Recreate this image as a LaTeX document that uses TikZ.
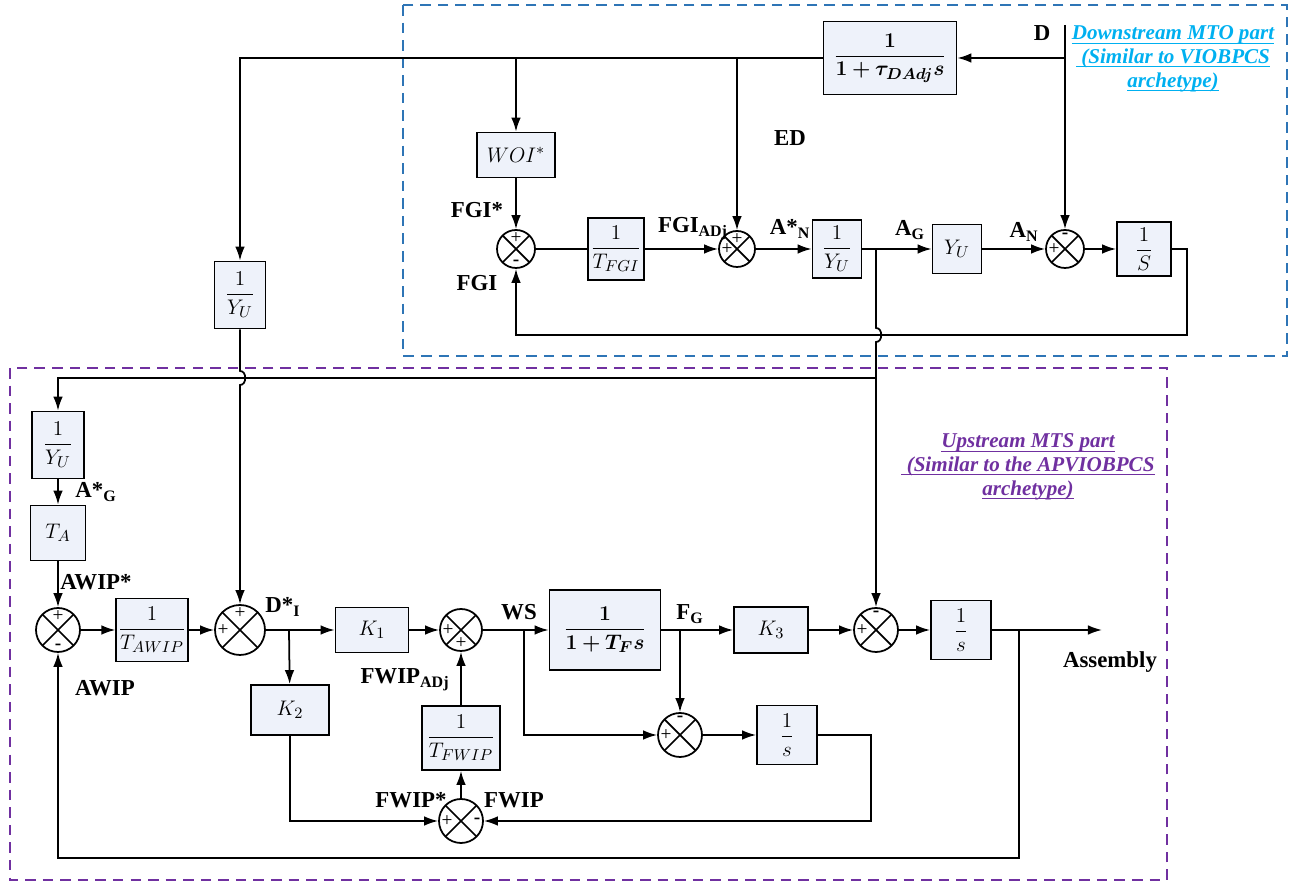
\documentclass[tikz,border=0pt]{standalone}
\usepackage{amsmath,bm}
\usepackage{fontspec}
\setmainfont{Liberation Serif}
\usetikzlibrary{arrows.meta,calc}
\definecolor{boxfill}{RGB}{238,242,250}
\definecolor{mtoframe}{RGB}{46,117,182}
\definecolor{mtotext}{RGB}{0,176,240}
\definecolor{mtscol}{RGB}{112,48,160}
\newcommand{\ulin}[1]{\underline{\smash{#1}}}

\begin{document}
\begin{tikzpicture}[x=0.02cm,y=-0.02cm,line width=1pt,>={Latex[length=8pt,width=5.5pt]},
    font=\fontsize{13}{15}\selectfont,
    blk/.style 2 args={draw,fill=boxfill,inner sep=1pt,minimum width=#1,minimum height=#2},
    sum/.style={draw,circle,minimum size=#1,inner sep=0pt,
      path picture={\draw (path picture bounding box.south west) -- (path picture bounding box.north east)
        (path picture bounding box.north west) -- (path picture bounding box.south east);}},
    sgn/.style={inner sep=1.5pt,font=\fontsize{11}{11}\selectfont},
    lbl/.style={font=\fontsize{13}{15}\selectfont\bfseries},
    note/.style={align=center,font=\fontsize{12}{13.6}\selectfont\bfseries\itshape}]
  \useasboundingbox (0,0) rectangle (1289,884);
  \draw [mtoframe,line width=0.8pt,dash pattern=on 6pt off 4pt] (403,5) rectangle (1287,356);
  \draw [mtscol,line width=0.8pt,dash pattern=on 6pt off 4pt] (10,368) rectangle (1167,880);

  \node [blk={2.66cm}{1.46cm}] (dly) at (890,58) {$\dfrac{\bm{1}}{\bm{1+\tau_{DAdj}s}}$};
  \node [blk={1.56cm}{0.9cm}] (woi) at (516,155) {$WOI^*$};
  \node [sum=0.76cm,label={[sgn,anchor=north]90:+},label={[sgn,anchor=south]-90:\textbf{-}}] (sfgi) at (516,249) {};
  \node [blk={1.12cm}{1.24cm}] (tfgi) at (616,249) {$\dfrac{1}{T_{FGI}}$};
  \node [sum=0.72cm,label={[sgn,anchor=north]90:+},label={[sgn,anchor=west]180:+}] (sadj) at (737,249) {};
  \node [blk={0.98cm}{1.16cm}] (yu1) at (837,249) {$\dfrac{1}{Y_U}$};
  \node [blk={0.98cm}{0.98cm}] (yu2) at (957,249) {$Y_U$};
  \node [sum=0.76cm,label={[sgn,anchor=north]90:\textbf{-}},label={[sgn,anchor=west]180:+}] (san) at (1065,249) {};
  \node [blk={1.08cm}{1.08cm}] (ints) at (1144,249) {$\dfrac{1}{S}$};

  \node [blk={1.02cm}{1.34cm}] (yu3) at (240,295) {$\dfrac{1}{Y_U}$};
  \node [blk={1.04cm}{1.34cm}] (yu4) at (58,445) {$\dfrac{1}{Y_U}$};
  \node [blk={1.1cm}{1.1cm}] (ta) at (58,533) {$T_A$};
  \node [sum=0.88cm,label={[sgn,anchor=north]90:+},label={[sgn,anchor=south]-90:\textbf{-}}] (sawip) at (58,630) {};
  \node [blk={1.22cm}{1.26cm}] (tawip) at (152,630) {$\dfrac{1}{T_{AWIP}}$};
  \node [sum=1cm,label={[sgn,anchor=north]90:+},label={[sgn,anchor=west]180:+}] (sdi) at (240,630) {};
  \node [blk={1.46cm}{0.9cm}] (k1) at (372,630) {$K_1$};
  \node [sum=0.84cm,label={[sgn,anchor=west]180:+},label={[sgn,anchor=south]-90:+}] (sws) at (461,630) {};
  \node [blk={2.22cm}{1.6cm}] (tf) at (605,630) {$\dfrac{\bm{1}}{\bm{1+T_F s}}$};
  \node [blk={1.48cm}{0.92cm}] (k3) at (771,630) {$K_3$};
  \node [sum=0.88cm,label={[sgn,anchor=north]90:\textbf{-}},label={[sgn,anchor=west]180:+}] (sk3) at (876,630) {};
  \node [blk={1.2cm}{1.18cm}] (int1) at (961,630) {$\dfrac{1}{s}$};
  \node [blk={1.56cm}{1.0cm}] (k2) at (290,710) {$K_2$};
  \node [blk={1.56cm}{1.28cm}] (tfwip) at (461,738) {$\dfrac{1}{T_{FWIP}}$};
  \node [sum=0.88cm,label={[sgn,anchor=west]180:+},label={[sgn,anchor=east]0:\textbf{-}}] (sfwip) at (461,821) {};
  \node [sum=0.88cm,label={[sgn,anchor=north]90:\textbf{-}},label={[sgn,anchor=west]180:+}] (slow) at (680,735) {};
  \node [blk={1.2cm}{1.18cm}] (int2) at (787,735) {$\dfrac{1}{s}$};

  \coordinate (din) at (1065,25);
  \coordinate (anj) at (876,249);
  \coordinate (hopa) at (876,335);
  \coordinate (upj) at (876,378);
  \coordinate (fgir) at (1187,335);
  \coordinate (hopb) at (240,378);
  \coordinate (dij) at (289,630);
  \coordinate (wsj) at (524,630);
  \coordinate (fgj) at (680,630);
  \coordinate (outj) at (1019,630);
  \coordinate (asm) at (1102,630);
  \coordinate (outb) at (1019,858);
  \coordinate (fwr) at (871,821);

  \draw [->] (din) -- (san);
  \draw [->] (din |- dly) -- (dly);
  \draw [->] (dly) -| (yu3);
  \draw [->] (woi |- dly) -- (woi);
  \draw [->] (sadj |- dly) -- (sadj);
  \draw [->] (woi) -- (sfgi);
  \draw (sfgi) -- (tfgi);
  \draw [->] (tfgi) -- (sadj);
  \draw [->] (sadj) -- (yu1);
  \draw [->] (yu1) -- (yu2);
  \draw [->] (yu2) -- (san);
  \draw [->] (san) -- (ints);
  \draw [->] (ints) -| (fgir) -| (sfgi);
  \draw [->] (anj) -- ([yshift=4pt]hopa) .. controls ([xshift=4pt,yshift=4pt]hopa) and ([xshift=4pt,yshift=-4pt]hopa) .. ([yshift=-4pt]hopa) -- (sk3);
  \draw [->] (upj) -| (yu4);
  \draw [->] (yu3) -- ([yshift=4pt]hopb) .. controls ([xshift=4pt,yshift=4pt]hopb) and ([xshift=4pt,yshift=-4pt]hopb) .. ([yshift=-4pt]hopb) -- (sdi);
  \draw [->] (yu4) -- (ta);
  \draw [->] (ta) -- (sawip);
  \draw [->] (sawip) -- (tawip);
  \draw [->] (tawip) -- (sdi);
  \draw [->] (sdi) -- (k1);
  \draw [->] (dij) -- (k2);
  \draw [->] (k1) -- (sws);
  \draw [->] (sws) -- (tf);
  \draw [->] (wsj) |- (slow);
  \draw [->] (tf) -- (k3);
  \draw [->] (fgj) -- (slow);
  \draw [->] (k3) -- (sk3);
  \draw [->] (sk3) -- (int1);
  \draw [->] (int1) -- (asm);
  \draw [->] (outj) -- (outb) -| (sawip);
  \draw [->] (k2) |- (sfwip);
  \draw [->] (slow) -- (int2);
  \draw [->] (int2) -| (fwr) -- (sfwip);
  \draw [->] (sfwip) -- (tfwip);
  \draw [->] (tfwip) -- (sws);

  \node [lbl] (ld) at (1042,33) {D};
  \node [lbl] (led) at (790,138) {ED};
  \node [lbl] (lfgis) at (477,210) {FGI*};
  \node [lbl] (lfgi) at (477,283) {FGI};
  \node [lbl] (lfgiadj) at (693,229) {FGI\textsubscript{ADj}};
  \node [lbl] (lans) at (790,229) {A*\textsubscript{N}};
  \node [lbl] (lag) at (910,230) {A\textsubscript{G}};
  \node [lbl] (lan) at (1024,232) {A\textsubscript{N}};
  \node [lbl] (lags) at (96,492) {A*\textsubscript{G}};
  \node [lbl] (lawips) at (96,582) {AWIP*};
  \node [lbl] (ldi) at (283,607) {D*\textsubscript{I}};
  \node [lbl] (lawip) at (105,688) {AWIP};
  \node [lbl] (lfwipadj) at (405,680) {FWIP\textsubscript{ADj}};
  \node [lbl] (lws) at (519,612) {WS};
  \node [lbl] (lfg) at (690,614) {F\textsubscript{G}};
  \node [lbl] (lfwips) at (411,800) {FWIP*};
  \node [lbl] (lfwip) at (514,800) {FWIP};
  \node [lbl] (lasm) at (1110,662) {Assembly};

  \node [note,text=mtotext] (mto) at (1173,66) {\ulin{Downstream MTO part}\\\ulin{\ (Similar to VIOBPCS}\\\ulin{archetype)}};
  \node [note,text=mtscol] (mts) at (1028,474) {\ulin{Upstream MTS part}\\\ulin{\ (Similar to the APVIOBPCS}\\\ulin{archetype)}};
\end{tikzpicture}
\end{document}
